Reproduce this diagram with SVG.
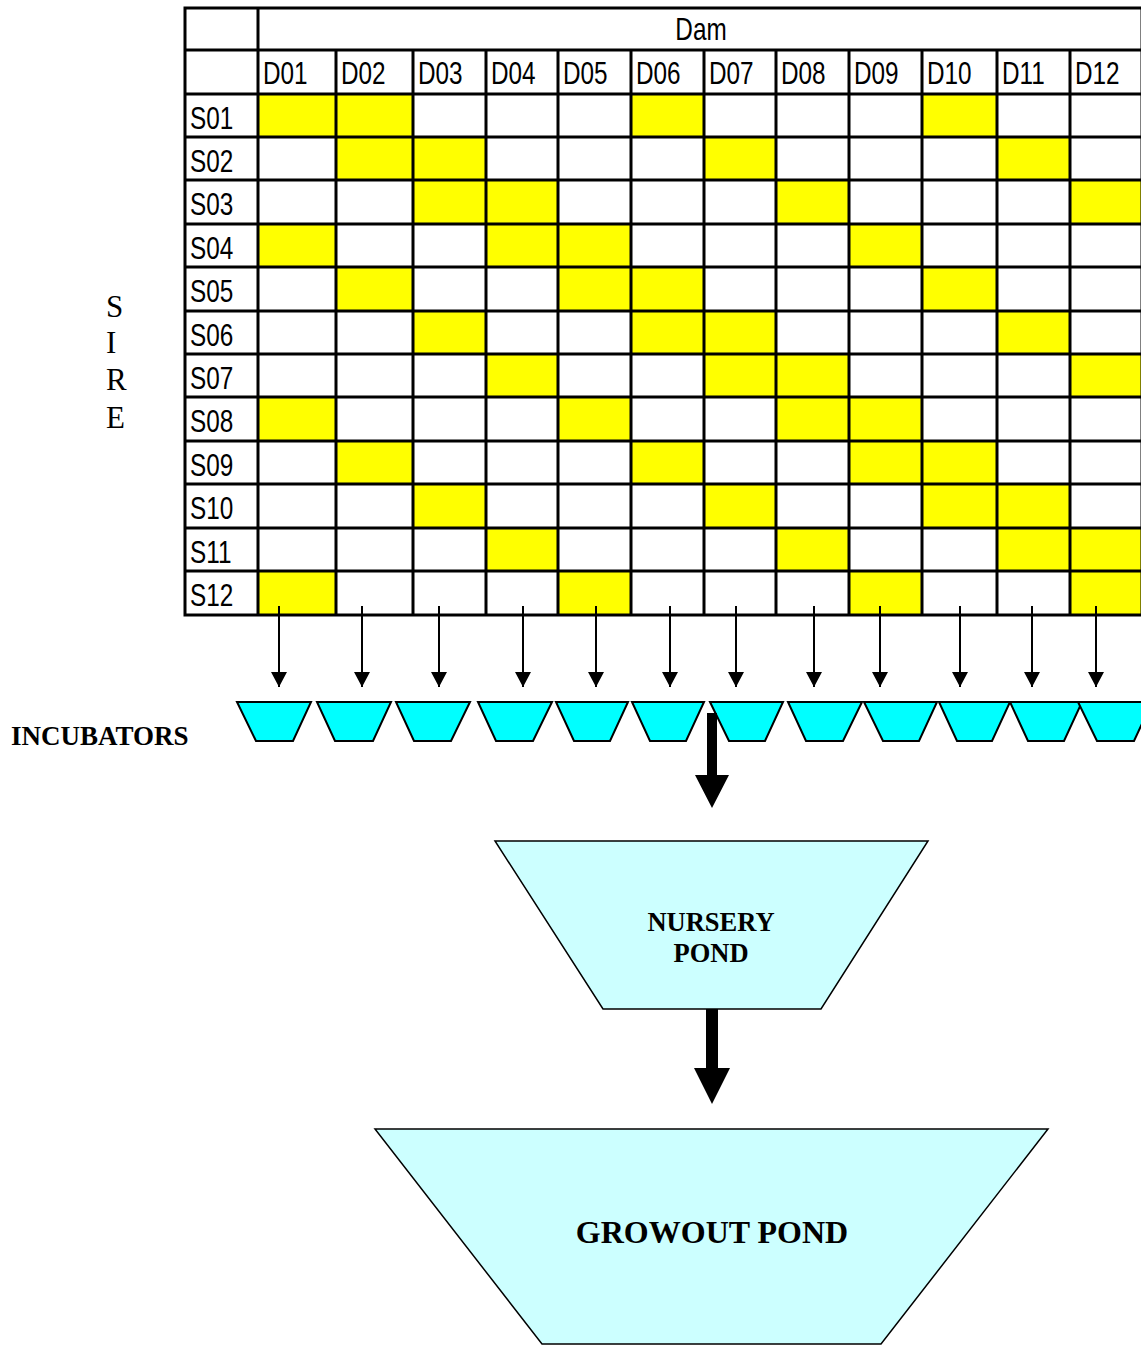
<svg xmlns="http://www.w3.org/2000/svg" width="1141" height="1345" viewBox="0 0 1141 1345">
  <style>
    .cell { fill: #FFFFFF; }
    .hit { fill: #FFFF00; }
    .gl { stroke: #000; stroke-width: 3; fill: none; }
    .lbl { font-family: "Liberation Sans", Arial, sans-serif; font-size: 32px; fill: #000; }
    .serif { font-family: "Liberation Serif", "Times New Roman", serif; fill: #000; }
    .bold { font-weight: bold; }
    .inc { fill: #00FFFF; stroke: #000; stroke-width: 2; stroke-linejoin: miter; }
    .pond { fill: #CCFFFF; stroke: #000; stroke-width: 1.5; }
    .thin { stroke: #000; stroke-width: 2; fill: none; }
  </style>
  <defs>
    <marker id="head" markerWidth="16" markerHeight="16" refX="15" refY="8" orient="auto" markerUnits="userSpaceOnUse">
      <path d="M0,0 L15,8 L0,16 Z" fill="#000"/>
    </marker>
  </defs>

  <rect width="1141" height="1345" fill="#FFFFFF"/>

  <!-- Mating grid: sires (rows) x dams (columns) -->
  <g id="mating-grid">
    <rect x="185" y="8" width="957" height="607" class="cell"/>
    <g id="crosses">
      <!-- S01 -->
      <rect class="hit" x="258" y="94" width="78" height="43"/><rect class="hit" x="336" y="94" width="77" height="43"/><rect class="hit" x="631" y="94" width="73" height="43"/><rect class="hit" x="922" y="94" width="75" height="43"/>
      <!-- S02 -->
      <rect class="hit" x="336" y="137" width="77" height="43"/><rect class="hit" x="413" y="137" width="73" height="43"/><rect class="hit" x="704" y="137" width="72" height="43"/><rect class="hit" x="997" y="137" width="73" height="43"/>
      <!-- S03 -->
      <rect class="hit" x="413" y="180" width="73" height="44"/><rect class="hit" x="486" y="180" width="72" height="44"/><rect class="hit" x="776" y="180" width="73" height="44"/><rect class="hit" x="1070" y="180" width="72" height="44"/>
      <!-- S04 -->
      <rect class="hit" x="258" y="224" width="78" height="43"/><rect class="hit" x="486" y="224" width="72" height="43"/><rect class="hit" x="558" y="224" width="73" height="43"/><rect class="hit" x="849" y="224" width="73" height="43"/>
      <!-- S05 -->
      <rect class="hit" x="336" y="267" width="77" height="44"/><rect class="hit" x="558" y="267" width="73" height="44"/><rect class="hit" x="631" y="267" width="73" height="44"/><rect class="hit" x="922" y="267" width="75" height="44"/>
      <!-- S06 -->
      <rect class="hit" x="413" y="311" width="73" height="43"/><rect class="hit" x="631" y="311" width="73" height="43"/><rect class="hit" x="704" y="311" width="72" height="43"/><rect class="hit" x="997" y="311" width="73" height="43"/>
      <!-- S07 -->
      <rect class="hit" x="486" y="354" width="72" height="43"/><rect class="hit" x="704" y="354" width="72" height="43"/><rect class="hit" x="776" y="354" width="73" height="43"/><rect class="hit" x="1070" y="354" width="72" height="43"/>
      <!-- S08 -->
      <rect class="hit" x="258" y="397" width="78" height="44"/><rect class="hit" x="558" y="397" width="73" height="44"/><rect class="hit" x="776" y="397" width="73" height="44"/><rect class="hit" x="849" y="397" width="73" height="44"/>
      <!-- S09 -->
      <rect class="hit" x="336" y="441" width="77" height="43"/><rect class="hit" x="631" y="441" width="73" height="43"/><rect class="hit" x="849" y="441" width="73" height="43"/><rect class="hit" x="922" y="441" width="75" height="43"/>
      <!-- S10 -->
      <rect class="hit" x="413" y="484" width="73" height="44"/><rect class="hit" x="704" y="484" width="72" height="44"/><rect class="hit" x="922" y="484" width="75" height="44"/><rect class="hit" x="997" y="484" width="73" height="44"/>
      <!-- S11 -->
      <rect class="hit" x="486" y="528" width="72" height="43"/><rect class="hit" x="776" y="528" width="73" height="43"/><rect class="hit" x="997" y="528" width="73" height="43"/><rect class="hit" x="1070" y="528" width="72" height="43"/>
      <!-- S12 -->
      <rect class="hit" x="258" y="571" width="78" height="44"/><rect class="hit" x="558" y="571" width="73" height="44"/><rect class="hit" x="849" y="571" width="73" height="44"/><rect class="hit" x="1070" y="571" width="72" height="44"/>
    </g>
    <g id="grid-lines" class="gl">
      <rect x="185" y="8" width="957" height="607"/>
      <path d="M258,8 V615"/>
      <path d="M336,50 V615 M413,50 V615 M486,50 V615 M558,50 V615 M631,50 V615 M704,50 V615 M776,50 V615 M849,50 V615 M922,50 V615 M997,50 V615 M1070,50 V615"/>
      <path d="M185,50 H1142 M185,94 H1142 M185,137 H1142 M185,180 H1142 M185,224 H1142 M185,267 H1142 M185,311 H1142 M185,354 H1142 M185,397 H1142 M185,441 H1142 M185,484 H1142 M185,528 H1142 M185,571 H1142"/>
    </g>
    <g id="dam-labels" class="lbl">
      <text transform="translate(701,40) scale(0.76,1)" text-anchor="middle">Dam</text>
      <text transform="translate(263,84) scale(0.76,1)">D01</text>
      <text transform="translate(341,84) scale(0.76,1)">D02</text>
      <text transform="translate(418,84) scale(0.76,1)">D03</text>
      <text transform="translate(491,84) scale(0.76,1)">D04</text>
      <text transform="translate(563,84) scale(0.76,1)">D05</text>
      <text transform="translate(636,84) scale(0.76,1)">D06</text>
      <text transform="translate(709,84) scale(0.76,1)">D07</text>
      <text transform="translate(781,84) scale(0.76,1)">D08</text>
      <text transform="translate(854,84) scale(0.76,1)">D09</text>
      <text transform="translate(927,84) scale(0.76,1)">D10</text>
      <text transform="translate(1002,84) scale(0.76,1)">D11</text>
      <text transform="translate(1075,84) scale(0.76,1)">D12</text>
    </g>
    <g id="sire-labels" class="lbl">
      <text transform="translate(190,129) scale(0.76,1)">S01</text>
      <text transform="translate(190,172) scale(0.76,1)">S02</text>
      <text transform="translate(190,215) scale(0.76,1)">S03</text>
      <text transform="translate(190,259) scale(0.76,1)">S04</text>
      <text transform="translate(190,302) scale(0.76,1)">S05</text>
      <text transform="translate(190,346) scale(0.76,1)">S06</text>
      <text transform="translate(190,389) scale(0.76,1)">S07</text>
      <text transform="translate(190,432) scale(0.76,1)">S08</text>
      <text transform="translate(190,476) scale(0.76,1)">S09</text>
      <text transform="translate(190,519) scale(0.76,1)">S10</text>
      <text transform="translate(190,563) scale(0.76,1)">S11</text>
      <text transform="translate(190,606) scale(0.76,1)">S12</text>
    </g>
  </g>

  <!-- Vertical "SIRE" caption -->
  <g id="sire-caption" class="serif" font-size="31">
    <text x="106" y="317">S</text>
    <text x="106" y="353">I</text>
    <text x="106" y="390">R</text>
    <text x="106" y="428">E</text>
  </g>

  <text id="incubators-label" class="serif bold" font-size="27" x="11" y="745">INCUBATORS</text>

  <!-- Incubators, one per dam column -->
  <g id="incubators">
    <polygon id="inc-01" class="inc" points="237,702 311,702 293,741 256,741"/>
    <polygon id="inc-02" class="inc" points="317,702 391,702 373,741 335,741"/>
    <polygon id="inc-03" class="inc" points="396,702 470,702 451,741 414,741"/>
    <polygon id="inc-04" class="inc" points="478,702 552,702 533,741 496,741"/>
    <polygon id="inc-05" class="inc" points="556,702 628,702 610,741 574,741"/>
    <polygon id="inc-06" class="inc" points="632,702 704,702 686,741 650,741"/>
    <polygon id="inc-07" class="inc" points="710,702 783,702 765,741 729,741"/>
    <polygon id="inc-08" class="inc" points="788,702 862,702 843,741 806,741"/>
    <polygon id="inc-09" class="inc" points="864,702 937,702 919,741 883,741"/>
    <polygon id="inc-10" class="inc" points="939,702 1010,702 992,741 957,741"/>
    <polygon id="inc-11" class="inc" points="1010,702 1082,702 1064,741 1028,741"/>
    <polygon id="inc-12" class="inc" points="1078,702 1152,702 1134,741 1097,741"/>
  </g>

  <!-- Ponds -->
  <g id="nursery-pond">
    <polygon class="pond" points="495,841 928,841 821,1009 603,1009"/>
    <text class="serif bold" font-size="26.5" x="711" y="931" text-anchor="middle">NURSERY</text>
    <text class="serif bold" font-size="26.5" x="711" y="962" text-anchor="middle">POND</text>
  </g>
  <g id="growout-pond">
    <polygon class="pond" points="375,1129 1048,1129 881,1344 542,1344"/>
    <text class="serif bold" font-size="32" x="712" y="1243" text-anchor="middle">GROWOUT POND</text>
  </g>

  <!-- Connectors -->
  <g id="connectors">
    <g class="thin">
      <path d="M279,606 V687" marker-end="url(#head)"/>
      <path d="M362,606 V687" marker-end="url(#head)"/>
      <path d="M439,606 V687" marker-end="url(#head)"/>
      <path d="M523,606 V687" marker-end="url(#head)"/>
      <path d="M596,606 V687" marker-end="url(#head)"/>
      <path d="M670,606 V687" marker-end="url(#head)"/>
      <path d="M736,606 V687" marker-end="url(#head)"/>
      <path d="M814,606 V687" marker-end="url(#head)"/>
      <path d="M880,606 V687" marker-end="url(#head)"/>
      <path d="M960,606 V687" marker-end="url(#head)"/>
      <path d="M1032,606 V687" marker-end="url(#head)"/>
      <path d="M1096,606 V687" marker-end="url(#head)"/>
    </g>
    <!-- incubators to nursery -->
    <polygon points="707,713 717,713 717,775 729,775 712,808 695,775 707,775" fill="#000"/>
    <!-- nursery to growout -->
    <polygon points="706,1009 718,1009 718,1068 730,1068 712,1104 694,1068 706,1068" fill="#000"/>
  </g>
</svg>
